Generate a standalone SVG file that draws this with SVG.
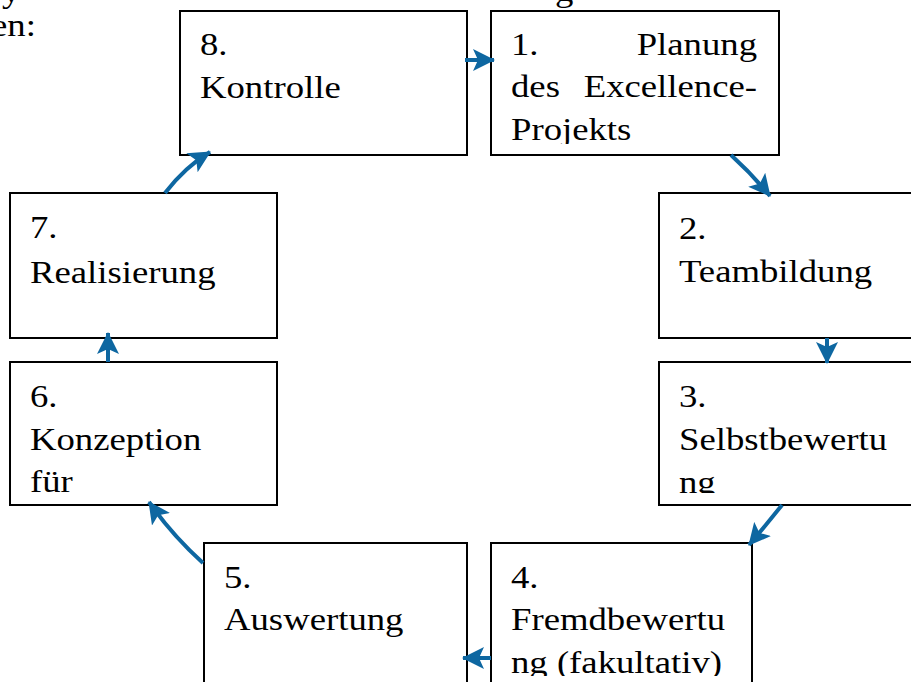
<svg xmlns="http://www.w3.org/2000/svg" width="911" height="682" viewBox="0 0 911 682">
<style>
  .box { fill: #ffffff; stroke: #000000; stroke-width: 2; }
  .t { font-family: "Liberation Serif", "Times New Roman", serif; font-size: 31px; fill: #000000; }
  .e { text-anchor: end; }
  .con { fill: none; stroke: #0e67a1; stroke-width: 4; marker-end: url(#arr); }
</style>
<defs>
  <marker id="arr" markerUnits="userSpaceOnUse" markerWidth="22" markerHeight="22" viewBox="0 0 22 22" refX="21" refY="11" orient="auto">
    <path d="M0,0 L22,11 L0,22 L5,11 z" fill="#0e67a1"/>
  </marker>
  <clipPath id="c1"><rect x="492" y="12" width="286" height="132"/></clipPath>
  <clipPath id="c3"><rect x="660" y="363" width="251" height="130"/></clipPath>
  <clipPath id="c4"><rect x="492" y="544" width="259" height="132"/></clipPath>
</defs>
<rect width="911" height="682" fill="#ffffff"/>

<g id="fragments">
  <text class="t" transform="translate(2,2) scale(1.185,1)">y</text>
  <text class="t" transform="translate(555,1) scale(1.185,1)">g</text>
  <text class="t" transform="translate(-9,36) scale(1.185,1)">en:</text>
</g>

<g id="n8">
  <rect class="box" x="180" y="11" width="287" height="144"/>
  <text class="t" transform="translate(200,55) scale(1.185,1)">8.</text>
  <text class="t" transform="translate(200,98) scale(1.185,1)">Kontrolle</text>
</g>

<g id="n1">
  <rect class="box" x="491" y="11" width="288" height="144"/>
  <g clip-path="url(#c1)">
    <text class="t" transform="translate(511,55) scale(1.185,1)">1.</text>
    <text class="t e" transform="translate(757,55) scale(1.185,1)">Planung</text>
    <text class="t" transform="translate(511,97) scale(1.185,1)">des</text>
    <text class="t e" transform="translate(757,97) scale(1.185,1)">Excellence-</text>
    <text class="t" transform="translate(511,140) scale(1.185,1)">Projekts</text>
  </g>
</g>

<g id="n2">
  <rect class="box" x="659" y="193" width="260" height="145"/>
  <text class="t" transform="translate(679,239) scale(1.185,1)">2.</text>
  <text class="t" transform="translate(679,282) scale(1.185,1)">Teambildung</text>
</g>

<g id="n3">
  <rect class="box" x="659" y="362" width="260" height="143"/>
  <g clip-path="url(#c3)">
    <text class="t" transform="translate(679,407) scale(1.185,1)">3.</text>
    <text class="t" transform="translate(679,450) scale(1.185,1)">Selbstbewertu</text>
    <text class="t" transform="translate(679,493) scale(1.185,1)">ng</text>
  </g>
</g>

<g id="n4">
  <rect class="box" x="491" y="543" width="261" height="150"/>
  <g clip-path="url(#c4)">
    <text class="t" transform="translate(511,588) scale(1.185,1)">4.</text>
    <text class="t" transform="translate(511,630) scale(1.185,1)">Fremdbewertu</text>
    <text class="t" transform="translate(511,673) scale(1.185,1)">ng (fakultativ)</text>
  </g>
</g>

<g id="n5">
  <rect class="box" x="204" y="543" width="263" height="150"/>
  <text class="t" transform="translate(224,588) scale(1.185,1)">5.</text>
  <text class="t" transform="translate(224,630) scale(1.185,1)">Auswertung</text>
</g>

<g id="n6">
  <rect class="box" x="10" y="362" width="267" height="143"/>
  <text class="t" transform="translate(30,407) scale(1.185,1)">6.</text>
  <text class="t" transform="translate(30,450) scale(1.185,1)">Konzeption</text>
  <text class="t" transform="translate(30,492) scale(1.185,1)">für</text>
</g>

<g id="n7">
  <rect class="box" x="10" y="193" width="267" height="145"/>
  <text class="t" transform="translate(30,238) scale(1.185,1)">7.</text>
  <text class="t" transform="translate(30,283) scale(1.185,1)">Realisierung</text>
</g>

<g id="connectors">
  <path class="con" d="M465,60 L494,60"/>
  <path class="con" d="M731,155 Q752,174 770,196"/>
  <path class="con" d="M827,338 L827,363"/>
  <path class="con" d="M782,505 Q766,525 749,545"/>
  <path class="con" d="M491,658 L463,658"/>
  <path class="con" d="M203,563 Q172,535 149,502"/>
  <path class="con" d="M108,362 L108,333"/>
  <path class="con" d="M165,193 Q185,167 210,152"/>
</g>
</svg>
